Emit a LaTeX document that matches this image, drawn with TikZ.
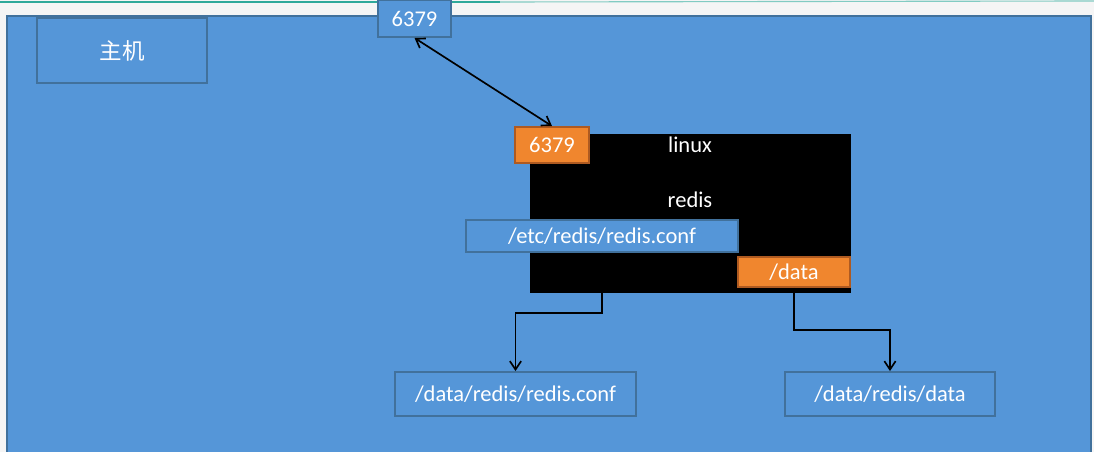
\documentclass[tikz,border=0pt]{standalone}
\usepackage{fontspec}
\setmainfont{Carlito}
\newfontfamily\cjk{Noto Sans CJK SC}
\usepackage{tikz}
\usetikzlibrary{positioning,arrows.meta}

\definecolor{hostblue}{RGB}{85,150,216}
\definecolor{edgeblue}{RGB}{65,113,156}
\definecolor{portorange}{RGB}{240,134,46}
\definecolor{edgeorange}{RGB}{174,90,33}
\definecolor{topline}{RGB}{47,169,154}

\begin{document}
\begin{tikzpicture}[x=0.025cm,y=-0.025cm,
                    every node/.style={font=\fontsize{16}{19}\selectfont,text=white,inner sep=0pt},
                    blue box/.style={draw=edgeblue,line width=1.3pt,fill=hostblue},
                    port box/.style={draw=edgeorange,line width=1.3pt,fill=portorange},
                    link/.style={draw=black,line width=1.2pt,-{Straight Barb[length=6pt,width=8pt]}}]

  \useasboundingbox (0,0) rectangle (1094,452);
  \fill[white!96!black] (0,0) rectangle (1094,452);
  \draw[topline,line width=1.4pt] (0,2) -- (500,2);
  \draw[topline!60,line width=0.8pt] (500,2) -- (1094,1);

  % host machine
  \fill[hostblue] (7,16) rectangle (1091,452);
  \draw[edgeblue,line width=1.3pt] (7,453) -- (7,16) -- (1091,16) -- (1091,453);

  \node[blue box,minimum width=4.25cm,minimum height=1.625cm] (host) at (122,50.5) {\cjk 主机};
  \node[blue box,minimum width=1.825cm,minimum height=0.925cm] (hostport) at (414.5,18.5) {6379};

  % container
  \node[fill=black,minimum width=8.025cm,minimum height=3.975cm] (linux) at (690.5,213.5) {};
  \node (linuxlabel) at (690,145) {linux};
  \node (redis) at (690,200) {redis};
  \node[port box,minimum width=1.85cm,minimum height=0.9cm] (port) at (552,145) {6379};
  \node[blue box,minimum width=6.8cm,minimum height=0.8cm] (conf) at (602,236) {/etc/redis/redis.conf};
  \node[port box,minimum width=2.8cm,minimum height=0.75cm] (data) at (794,272) {/data};

  % mounted on the host
  \node[blue box,minimum width=6.025cm,minimum height=1.1cm] (hostconf) at (515.5,394) {/data/redis/redis.conf};
  \node[blue box,minimum width=5.25cm,minimum height=1.1cm] (hostdata) at (890,394) {/data/redis/data};

  \draw[link,{Straight Barb[length=6pt,width=8pt]}-{Straight Barb[length=6pt,width=8pt]}] (hostport.south) -- (port.north);
  \draw[link] (conf.south) -- ++(0,60) -| (hostconf.north);
  \draw[link] (data.south) -- ++(0,42) -| (hostdata.north);

\end{tikzpicture}
\end{document}
